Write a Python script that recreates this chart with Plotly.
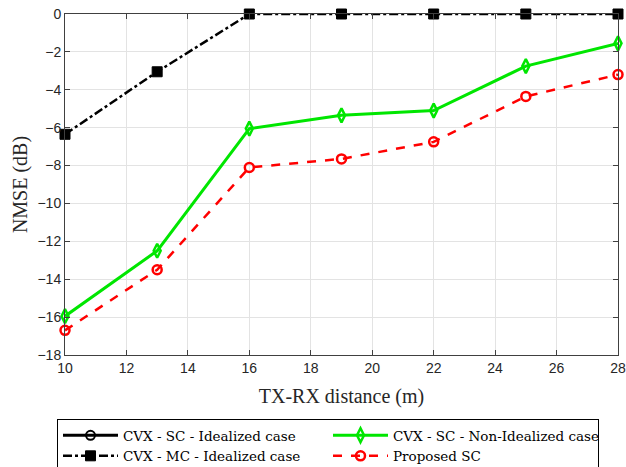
import plotly.graph_objects as go

distance = [10, 13, 16, 19, 22, 25, 28]
cvx_sc_ideal = [None, None, None, None, None, None, None]  # not visible in plotted range
cvx_sc_nonideal = [-15.95, -12.5, -6.05, -5.35, -5.1, -2.75, -1.55]
cvx_mc_ideal = [-6.35, -3.05, 0, 0, 0, 0, 0]
proposed_sc = [-16.7, -13.5, -8.1, -7.65, -6.75, -4.35, -3.2]

x_ticks = [10, 12, 14, 16, 18, 20, 22, 24, 26, 28]
y_ticks = [0, -2, -4, -6, -8, -10, -12, -14, -16, -18]

serif = "Liberation Serif, DejaVu Serif, serif"
serif_wide = "DejaVu Serif, Liberation Serif, serif"
sans = "Liberation Sans, Arial, sans-serif"

fig = go.Figure()
fig.add_trace(go.Scatter(
    x=distance, y=cvx_sc_ideal, name="CVX - SC - Idealized case",
    mode="lines+markers", line=dict(color="black", width=3),
    marker=dict(symbol="circle-open", size=9, color="black", line=dict(width=2)),
    cliponaxis=False))
fig.add_trace(go.Scatter(
    x=distance, y=cvx_sc_nonideal, name="CVX - SC - Non-Idealized case",
    mode="lines+markers", line=dict(color="#00e600", width=3),
    marker=dict(symbol="diamond-tall-open", size=10, color="#00e600", line=dict(width=2.5)),
    cliponaxis=False))
fig.add_trace(go.Scatter(
    x=distance, y=cvx_mc_ideal, name="CVX - MC - Idealized case",
    mode="lines+markers", line=dict(color="black", width=2.5, dash="dashdot"),
    marker=dict(symbol="square", size=10, color="black", line=dict(width=1, color="black")),
    cliponaxis=False))
fig.add_trace(go.Scatter(
    x=distance, y=proposed_sc, name="Proposed SC",
    mode="lines+markers", line=dict(color="#ff0000", width=2.5, dash="dash"),
    marker=dict(symbol="circle-open", size=9, color="#ff0000", line=dict(width=2.5)),
    cliponaxis=False))

axis_common = dict(
    showgrid=True, gridcolor="#e3e3e3", gridwidth=1,
    showline=True, linecolor="#404040", linewidth=1, mirror="ticks",
    ticks="inside", ticklen=5, tickcolor="#404040",
    tickfont=dict(family=sans, size=14, color="#262626"),
    zeroline=False, automargin=False,
)

fig.update_xaxes(range=[10, 28], tickvals=x_ticks,
                 title=dict(text="TX-RX distance (m)", font=dict(family=serif, size=20, color="#262626"), standoff=14),
                 **axis_common)
fig.update_yaxes(range=[-18, 0], tickvals=y_ticks,
                 title=dict(text="NMSE (dB)", font=dict(family=serif, size=20, color="#262626"), standoff=4),
                 **axis_common)

fig.update_layout(
    width=626, height=467,
    margin=dict(l=65, r=8, t=14, b=112, autoexpand=False),
    plot_bgcolor="white", paper_bgcolor="white",
    legend=dict(
        orientation="h", x=57 / 626, y=1 - 419 / 467, xref="container", yref="container",
        xanchor="left", yanchor="top",
        entrywidth=200, entrywidthmode="pixels",
        font=dict(family=serif_wide, size=13.5, color="black"),
        bordercolor="black", borderwidth=1, bgcolor="white",
        tracegroupgap=0, itemwidth=55,
    ),
)

fig.write_html("out.html", config={"displayModeBar": False},
               post_script="document.body.style.margin='0';document.body.style.overflow='hidden';")
